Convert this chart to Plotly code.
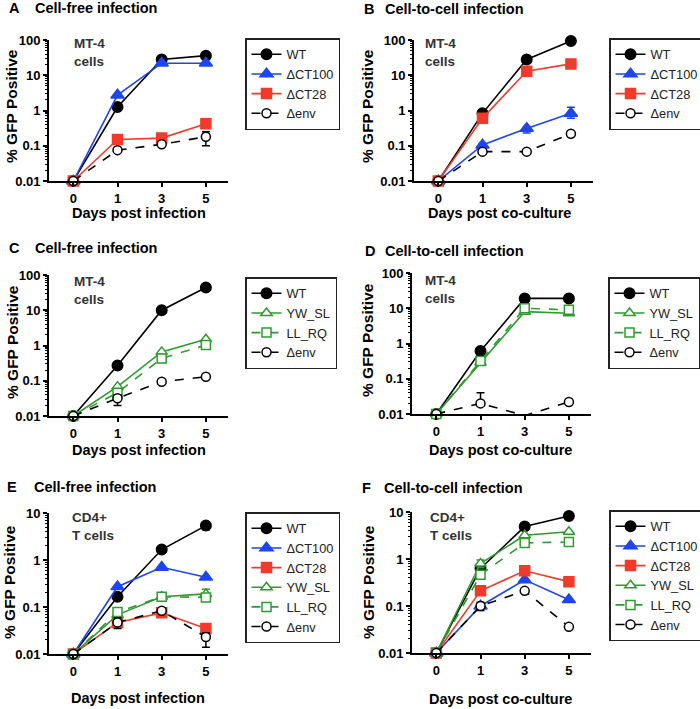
import plotly.graph_objects as go

W, H = 700, 709

days = ["0", "1", "3", "5"]

# A: cell-free infection, MT-4 cells
a_wt = [0.01, 1.25, 28, 36]
a_ct100 = [0.01, 2.75, 22, 22]
a_ct28 = [0.01, 0.15, 0.165, 0.42]
a_env = [0.01, 0.075, 0.11, 0.18]
a_env_up = [None, None, 0.015, 0.07]
a_env_dn = [None, None, 0.01, 0.08]

# B: cell-to-cell infection, MT-4 cells
b_wt = [0.01, 0.83, 28, 93]
b_ct100 = [0.01, 0.105, 0.31, 0.83]
b_ct100_up = [None, 0.01, 0.04, 0.4]
b_ct100_dn = [None, 0.01, 0.08, 0.23]
b_ct28 = [0.01, 0.6, 13, 21]
b_env = [0.01, 0.068, 0.068, 0.22]

# C: cell-free infection, MT-4 cells
c_wt = [0.01, 0.27, 10, 44]
c_yw = [0.01, 0.068, 0.66, 1.5]
c_ll = [0.01, 0.046, 0.43, 1.03]
c_env = [0.01, 0.032, 0.094, 0.13]
c_env_up = [None, 0.008, None, None]
c_env_dn = [None, 0.012, None, None]

# D: cell-to-cell infection, MT-4 cells (env at day 3 falls below the axis)
d_wt = [0.01, 0.61, 19, 19]
d_yw = [0.01, 0.29, 8, 7.2]
d_ll = [0.01, 0.32, 10, 9]
d_env = [0.01, 0.02, 0.009, 0.022]
d_env_up = [None, 0.02, None, None]
d_env_dn = [None, 0, None, None]

# E: cell-free infection, CD4+ T cells
e_wt = [0.01, 0.166, 1.67, 5.4]
e_wt_up = [None, None, None, 0.4]
e_wt_dn = [None, None, None, 1.0]
e_ct100 = [0.01, 0.27, 0.7, 0.43]
e_ct28 = [0.01, 0.047, 0.075, 0.035]
e_ct28_up = [None, None, None, 0.006]
e_ct28_dn = [None, None, None, 0.004]
e_yw = [0.01, 0.068, 0.165, 0.19]
e_yw_up = [None, None, None, 0.05]
e_yw_dn = [None, None, None, 0.02]
e_ll = [0.01, 0.078, 0.165, 0.16]
e_env = [0.01, 0.047, 0.083, 0.023]
e_env_up = [None, 0.012, None, 0.005]
e_env_dn = [None, 0.012, None, 0.009]

# F: cell-to-cell infection, CD4+ T cells
f_wt = [0.01, 0.63, 4.9, 8.2]
f_ct100 = [0.01, 0.1, 0.36, 0.136]
f_ct28 = [0.01, 0.21, 0.56, 0.33]
f_yw = [0.01, 0.8, 3.2, 3.8]
f_yw_up = [None, 0.15, None, None]
f_yw_dn = [None, 0.15, None, None]
f_ll = [0.01, 0.46, 2.2, 2.3]
f_env = [0.01, 0.1, 0.21, 0.036]
f_env_up = [None, 0.02, None, None]
f_env_dn = [None, 0.02, None, None]

FONT = "Liberation Sans, Arial, sans-serif"
BLUE = "#1f45f2"
RED = "#f23a2b"
GREEN = "#2e9a30"

# colour, symbol, filled, dash, size
STYLE = {
    "WT": ("black", "circle", True, "solid", 10.5),
    "\u0394CT100": (BLUE, "triangle-up", True, "solid", 11.5),
    "\u0394CT28": (RED, "square", True, "solid", 10),
    "YW_SL": (GREEN, "triangle-up", False, "solid", 10),
    "LL_RQ": (GREEN, "square", False, "dash", 9),
    "\u0394env": ("black", "circle", False, "dash", 9),
}


def px(x):
    return x / W


def py(y):
    return 1 - y / H


# panel geometry in pixels: axis box (left, right, top, bottom), legend corner
panels = [
    dict(letter="A", title="Cell-free infection", cells="MT-4<br>cells",
         xtitle="Days post infection", box=(49, 228, 40, 181), leg=(245, 38),
         ymax=2, ltx=7, ttx=33, tty=8, yt=(12, 106), xt=(139, 213), cl=(72, 52),
         series=[("WT", a_wt, None, None), ("\u0394CT100", a_ct100, None, None),
                 ("\u0394CT28", a_ct28, None, None), ("\u0394env", a_env, a_env_up, a_env_dn)]),
    dict(letter="B", title="Cell-to-cell infection", cells="MT-4<br>cells",
         xtitle="Days post co-culture", box=(414, 593, 40, 181), leg=(609, 38),
         ymax=2, ltx=362, ttx=383, tty=9, yt=(368, 106), xt=(499, 213), cl=(423, 52),
         series=[("WT", b_wt, None, None), ("\u0394CT100", b_ct100, b_ct100_up, b_ct100_dn),
                 ("\u0394CT28", b_ct28, None, None), ("\u0394env", b_env, None, None)]),
    dict(letter="C", title="Cell-free infection", cells="MT-4<br>cells",
         xtitle="Days post infection", box=(49, 228, 275, 416), leg=(245, 277),
         ymax=2, ltx=7, ttx=33, tty=248, yt=(12, 342), xt=(139, 450), cl=(72, 290),
         series=[("WT", c_wt, None, None), ("YW_SL", c_yw, None, None),
                 ("LL_RQ", c_ll, None, None), ("\u0394env", c_env, c_env_up, c_env_dn)]),
    dict(letter="D", title="Cell-to-cell infection", cells="MT-4<br>cells",
         xtitle="Days post co-culture", box=(412, 591, 273, 414), leg=(608, 277),
         ymax=2, ltx=363, ttx=383, tty=251, yt=(368, 340), xt=(500, 450), cl=(423, 289),
         series=[("WT", d_wt, None, None), ("YW_SL", d_yw, None, None),
                 ("LL_RQ", d_ll, None, None), ("\u0394env", d_env, d_env_up, d_env_dn)]),
    dict(letter="E", title="Cell-free infection", cells="CD4+<br>T cells",
         xtitle="Days post infection", box=(49, 228, 513, 654), leg=(245, 512),
         ymax=1, ltx=5, ttx=32, tty=487, yt=(9, 582), xt=(138, 698), cl=(70, 526),
         series=[("WT", e_wt, e_wt_up, e_wt_dn), ("\u0394CT100", e_ct100, None, None),
                 ("\u0394CT28", e_ct28, e_ct28_up, e_ct28_dn), ("YW_SL", e_yw, e_yw_up, e_yw_dn),
                 ("LL_RQ", e_ll, None, None), ("\u0394env", e_env, e_env_up, e_env_dn)]),
    dict(letter="F", title="Cell-to-cell infection", cells="CD4+<br>T cells",
         xtitle="Days post co-culture", box=(412, 591, 512, 653), leg=(609, 510),
         ymax=1, ltx=360, ttx=382, tty=488, yt=(368, 582), xt=(500, 699), cl=(428, 526),
         series=[("WT", f_wt, None, None), ("\u0394CT100", f_ct100, None, None),
                 ("\u0394CT28", f_ct28, None, None), ("YW_SL", f_yw, f_yw_up, f_yw_dn),
                 ("LL_RQ", f_ll, None, None), ("\u0394env", f_env, f_env_up, f_env_dn)]),
]

fig = go.Figure()
layout = {}
annotations = []

for i, p in enumerate(panels):
    n = i + 1
    xa = "x" if n == 1 else "x%d" % n
    ya = "y" if n == 1 else "y%d" % n
    leg = "legend" if n == 1 else "legend%d" % n
    left, right, top, bottom = p["box"]

    for name, vals, up, dn in p["series"]:
        color, symbol, filled, dash, size = STYLE[name]
        err = None
        if up is not None:
            err = dict(type="data", symmetric=False, array=up, arrayminus=dn,
                       color=color, thickness=1.5, width=4)
        fig.add_trace(go.Scatter(
            x=days, y=vals, name=name, xaxis=xa, yaxis=ya, legend=leg,
            mode="lines+markers",
            line=dict(color=color, width=1.6, dash=dash),
            marker=dict(symbol=symbol, size=size,
                        color=color if filled else "white",
                        line=dict(color=color, width=1.5)),
            error_y=err,
            cliponaxis=(p["letter"] == "D" and name == "\u0394env"),
        ))

    layout["xaxis" if n == 1 else "xaxis%d" % n] = dict(
        domain=[px(left), px(right)], anchor=ya, type="category",
        range=[-0.55, 3.5], showline=True, linecolor="black", linewidth=1.8,
        ticks="outside", ticklen=4, tickwidth=1.5, tickcolor="black",
        showgrid=False, zeroline=False,
        tickfont=dict(family=FONT, size=13, color="black", weight="bold"),
    )
    tv = [10 ** k for k in range(-2, p["ymax"] + 1)]
    tt = ["0.01", "0.1", "1", "10", "100"][:len(tv)]
    layout["yaxis" if n == 1 else "yaxis%d" % n] = dict(
        domain=[py(bottom), py(top)], anchor=xa, type="log",
        range=[-2, p["ymax"]], tickmode="array", tickvals=tv, ticktext=tt,
        showline=True, linecolor="black", linewidth=1.8,
        ticks="outside", ticklen=4, tickwidth=1.5, tickcolor="black",
        minor=dict(ticks="outside", ticklen=2.5, tickwidth=1, tickcolor="black", dtick="D1"),
        showgrid=False, zeroline=False,
        tickfont=dict(family=FONT, size=13, color="black", weight="bold"),
    )
    lx, ly = p["leg"]
    layout[leg] = dict(
        x=px(lx), y=py(ly), xanchor="left", yanchor="top",
        bgcolor="white", bordercolor="#222", borderwidth=1.5,
        font=dict(family=FONT, size=12.8, color="#222"),
        itemwidth=30, tracegroupgap=0,
    )

    annotations += [
        dict(text="<b>%s</b>" % p["letter"], x=px(p["ltx"]), y=py(p["tty"]),
             xanchor="left", yanchor="middle", font=dict(size=14.5)),
        dict(text="<b>%s</b>" % p["title"], x=px(p["ttx"]), y=py(p["tty"]),
             xanchor="left", yanchor="middle", font=dict(size=14.5)),
        dict(text="<b>% GFP Positive</b>", x=px(p["yt"][0]), y=py(p["yt"][1]),
             xanchor="center", yanchor="middle", textangle=-90, font=dict(size=15.5)),
        dict(text="<b>%s</b>" % p["xtitle"], x=px(p["xt"][0]), y=py(p["xt"][1]),
             xanchor="center", yanchor="middle", font=dict(size=14.5)),
        dict(text="<b>%s</b>" % p["cells"], x=px(p["cl"][0]), y=py(p["cl"][1]),
             xanchor="left", yanchor="middle", align="left",
             font=dict(size=13.5, color="#333")),
    ]

for a in annotations:
    a.update(xref="paper", yref="paper", showarrow=False)
    a["font"].setdefault("color", "black")
    a["font"]["family"] = FONT

fig.update_layout(
    width=W, height=H,
    margin=dict(l=0, r=0, t=0, b=0, pad=0, autoexpand=False),
    paper_bgcolor="white", plot_bgcolor="white",
    font=dict(family=FONT, color="black"),
    annotations=annotations,
    **layout,
)

# the page body has a default 8px margin; drop it so the figure sits at 0,0
fig.write_html("out.html", config={"displayModeBar": False},
               post_script="document.body.style.margin='0px';")
